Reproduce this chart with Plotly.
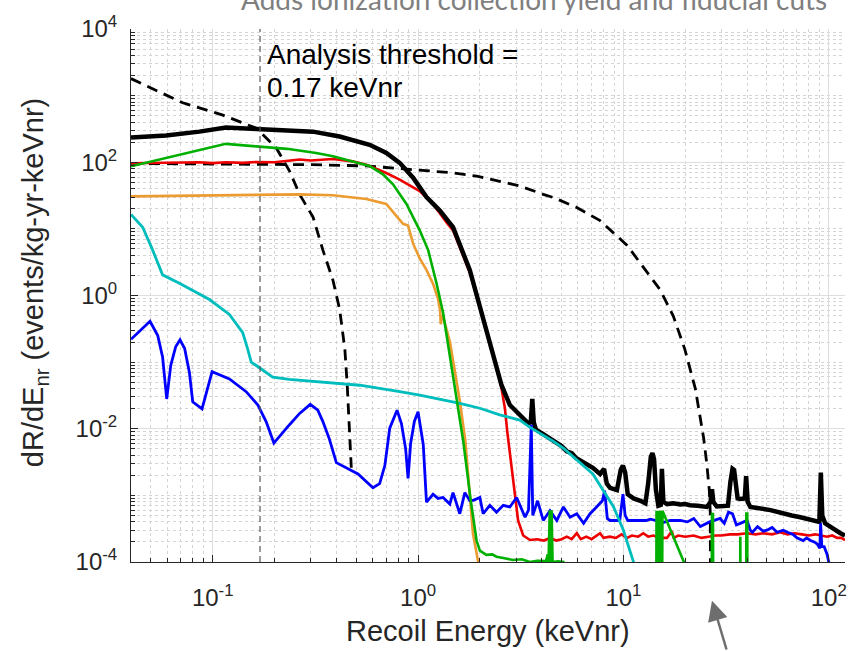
import math
import plotly.graph_objects as go

# ---------------------------------------------------------------
# Recoil spectra (events / kg / yr / keVnr) versus recoil energy (keVnr)
# ---------------------------------------------------------------

# light WIMP signal (dashed)
wimp_light_E = [0.040, 0.0714, 0.112, 0.163, 0.204, 0.237, 0.265, 0.308, 0.344,
                0.385, 0.415, 0.440, 0.452, 0.464, 0.473]
wimp_light_R = [1800, 780, 510, 324, 164, 73, 33, 15, 4.8,
                1.7, 0.62, 0.157, 0.045, 0.0081, 0.0026]

# heavier WIMP signal (dashed)
wimp_heavy_E = [0.040, 0.10, 0.30, 0.56, 0.91, 1.14, 1.43, 1.93, 2.80, 3.13, 4.07,
                4.55, 5.93, 7.70, 10.4, 12.5, 15.1, 17.5, 19.9, 22.4, 24.6, 25.5,
                26.2, 26.5, 26.6]
wimp_heavy_R = [96, 95, 92, 88, 78, 75, 70, 62, 47, 44, 33,
                29.6, 21, 13.3, 5.7, 2.7, 1.22, 0.49, 0.157, 0.04, 0.0072, 0.0029,
                0.0012, 0.00053, 1e-6]

# total background (thick black)
total_E = [0.040, 0.0593, 0.0861, 0.116, 0.163, 0.237, 0.308, 0.415, 0.581, 0.701,
           0.814, 0.946, 1.099, 1.276, 1.48, 1.787, 2.16, 2.366, 2.55, 2.80,
           3.13, 3.44, 3.54, 3.60, 3.66, 3.75, 4.0, 4.39, 4.7, 5.0, 5.3,
           5.6, 5.9, 6.2, 6.5, 7.1, 7.7, 8.05, 8.3, 8.61, 9.3, 9.7,
           9.95, 10.2, 10.5, 11.2, 12.1, 12.8, 13.2, 13.6, 13.85, 14.1, 14.4,
           14.8, 15.2, 15.4, 15.65, 16.3, 17.5, 18.9, 20.0, 21.1, 23.0, 25.5,
           26.6, 27.0, 27.4, 28.5, 30.7, 32.3, 33.2, 34.0, 34.6, 35.4, 36.0,
           37.1, 39.0, 39.6, 40.3, 41.5, 44.0, 46.5, 49.0, 52, 56, 60.4,
           66, 72.8, 78, 81.5, 86, 90.0, 91.5, 93.0, 96.0, 98.2, 102, 108, 114, 120]
total_R = [235, 252, 288, 331, 316, 300, 288, 243, 183, 138,
           98, 58.6, 30, 18.8, 10.6, 2.4, 0.31, 0.11, 0.045, 0.0227,
           0.0162, 0.0121, 0.0125, 0.028, 0.0125, 0.0097, 0.0086, 0.0072, 0.0061, 0.0055, 0.0046,
           0.0043, 0.0036, 0.0033, 0.0030, 0.0026, 0.0021, 0.0025, 0.0015, 0.0013, 0.0012, 0.0024,
           0.0028, 0.0022, 0.00104, 0.0009, 0.00083, 0.00076, 0.0015, 0.0038, 0.0043, 0.0035, 0.0012,
           0.0007, 0.00072, 0.0025, 0.0008, 0.00074, 0.00076, 0.00073, 0.00074, 0.00071, 0.0007, 0.00067,
           0.0008, 0.00124, 0.0008, 0.00068, 0.00069, 0.0007, 0.0016, 0.0025, 0.0024, 0.0013, 0.0009,
           0.00088, 0.0009, 0.00195, 0.0008, 0.00067, 0.00066, 0.00063, 0.00062, 0.0006, 0.00056, 0.00053,
           0.0005, 0.00047, 0.00045, 0.00043, 0.00041, 0.0004, 0.0022, 0.0005, 0.00038, 0.00036, 0.00034,
           0.0003, 0.00027, 0.00025]

# red component
red_E = [0.040, 0.055, 0.07, 0.0861, 0.10, 0.116, 0.14, 0.163, 0.2, 0.23, 0.265, 0.30,
         0.385, 0.48, 0.56, 0.70, 0.814, 0.946, 1.019, 1.183, 1.276, 1.376, 1.48,
         1.787, 2.16, 2.366, 2.46, 2.55, 2.648, 2.72, 2.80, 2.96, 3.07, 3.25, 3.51,
         3.8, 4.1, 4.4, 4.7, 5.0, 5.3, 5.6, 5.93, 6.2, 6.6, 7.0, 7.4, 7.7, 8.0,
         8.6, 9.2, 9.8, 10.4, 11.0, 11.8, 12.5, 13.2, 14.0, 15.0, 16.3, 17.2, 17.6,
         18.5, 20, 22, 24, 26, 28, 30, 33, 36, 40, 44, 48, 53, 58, 63, 68, 74, 80,
         86, 92, 98, 104, 110, 115, 120]
red_R = [96.5, 98, 97, 100, 97, 100, 98, 101, 100, 104, 110, 106,
         112, 103, 92, 69, 55, 42, 37, 23.6, 16.8, 12.5, 9.5,
         2.2, 0.29, 0.105, 0.07, 0.04, 0.0203, 0.009, 0.0045, 0.00118, 0.00042, 0.00025, 0.000214,
         0.00022, 0.00021, 0.00023, 0.00021, 0.00022, 0.00024, 0.00022, 0.00027, 0.00022, 0.00024,
         0.00022, 0.00025, 0.00027, 0.00023,
         0.00024, 0.00023, 0.00026, 0.00023, 0.00025, 0.00024, 0.00027, 0.00024, 0.00025, 0.00023,
         0.00023, 0.00029, 0.00023,
         0.00025, 0.00024, 0.00025, 0.00023, 0.00024, 0.00025, 0.00025, 0.00026, 0.00026, 0.00027,
         0.00026, 0.00027, 0.00026, 0.00028, 0.00026, 0.00027, 0.00026, 0.00025,
         0.00026, 0.00025, 0.00024, 0.00025, 0.00023, 0.00023, 0.000214]

# green component
green_E = [0.040, 0.116, 0.163, 0.23, 0.319, 0.385, 0.48, 0.58, 0.675, 0.755, 0.878,
           1.019, 1.12, 1.23, 1.324, 1.48, 1.66, 1.80, 1.927, 2.0, 2.15, 2.3, 2.41,
           2.6, 2.9, 3.2, 3.5, 3.8, 4.1, 4.2, 4.28, 4.32, 4.38, 4.42, 4.47, 4.52,
           4.8, 5.1, 5.2,
           14.45, 14.5, 14.65, 14.75, 14.9, 15.0, 15.15, 15.25, 15.4, 15.5,
           26.9, 27.0, 27.2, 27.3, 27.4,
           37.0, 37.1, 37.2,
           39.6, 39.7, 39.9, 40.1, 40.2]
green_R = [87, 189, 173, 159, 138, 123, 103, 88, 66, 46.6, 23.6,
           9.5, 4.8, 1.53, 0.55, 0.063, 0.0065, 0.0009, 0.00021, 0.000148, 0.000128, 0.00013, 0.00012,
           0.000115, 0.000107, 0.00011, 0.0001, 0.000104, 0.000102, 0.000103, 0.00013, 0.0001,
           0.0006, 0.00009, 0.0006, 0.0001,
           0.000102, 0.0001, 1e-5,
           1e-5, 0.00059, 1e-5, 0.00059, 1e-5, 0.00059, 1e-5, 0.00059, 1e-5, 0.00059,
           1e-5, 0.00055, 1e-5, 0.00055, 1e-5,
           1e-5, 0.00024, 1e-5,
           1e-5, 0.00056, 1e-5, 0.00056, 1e-5]

# orange component
orange_E = [0.040, 0.1, 0.163, 0.265, 0.385, 0.48, 0.56, 0.70, 0.845, 0.894, 0.946,
            1.019, 1.10, 1.183, 1.25, 1.28, 1.29, 1.31, 1.33, 1.43, 1.48, 1.6, 1.70,
            1.78, 1.85, 1.963, 2.05]
orange_R = [30.7, 31.5, 32, 33, 32, 30, 28, 23.6, 11.9, 11.2, 6.0,
            3.6, 2.4, 1.5, 0.9, 0.6, 0.37, 0.5, 0.46, 0.2, 0.11, 0.0254, 0.0065,
            0.0012, 0.00027, 0.0001, 1e-5]

# cyan component
cyan_E = [0.040, 0.0456, 0.051, 0.057, 0.0688, 0.0964, 0.1206, 0.140, 0.148, 0.154,
          0.163, 0.196, 0.236, 0.385, 0.52, 0.814, 1.019, 1.597, 2.0, 2.5, 3.13,
          3.51, 4.55, 5.1, 7.1, 8.96, 10.0, 11.2, 12.0]
cyan_R = [16.4, 10.6, 4.8, 2.04, 1.53, 0.87, 0.52, 0.277, 0.157, 0.1,
          0.089, 0.0597, 0.055, 0.048, 0.045, 0.036, 0.032, 0.024, 0.0203, 0.0162, 0.0135,
          0.0105, 0.0065, 0.0051, 0.0021, 0.00067, 0.0003, 0.0001, 1e-5]

# blue component
blue_E = [0.040, 0.0495, 0.054, 0.057, 0.0597, 0.0625, 0.066, 0.0693, 0.073, 0.077,
          0.0799, 0.0887, 0.0993, 0.1206, 0.1455, 0.166,
          0.182, 0.1985, 0.2366, 0.265, 0.2985, 0.325, 0.344, 0.37, 0.40, 0.51, 0.603,
          0.65, 0.689, 0.728, 0.79, 0.83, 0.87, 0.894, 0.92, 0.96, 1.0, 1.06, 1.099,
          1.183, 1.25, 1.324, 1.428, 1.48,
          1.597, 1.69, 1.787, 1.87, 2.0, 2.075, 2.237, 2.41, 2.60, 2.80, 3.02, 3.19,
          3.32, 3.45, 3.56, 3.62, 3.82, 4.07, 4.39, 4.74, 5.1, 5.5, 5.93, 6.4, 6.88,
          7.4, 7.9, 8.1, 8.35, 8.6, 9.2, 9.6, 9.95, 10.2, 10.5, 11.6, 12.9, 13.5,
          14.4, 15.1, 16.9, 18.9, 20.5, 22.0, 23.7, 26.3, 28.5, 29.6, 31.0, 32.5,
          34.0, 35.5, 37.1, 40.0, 41.5, 42.5, 45.0, 48.0, 50, 53, 56, 60, 63, 67, 70,
          75, 78, 81.5, 85, 88, 90.5, 91.3, 92.5, 95, 98.2, 100, 101]
blue_R = [0.22, 0.41, 0.25, 0.12, 0.028, 0.09, 0.17, 0.216, 0.16, 0.07,
          0.0254, 0.0199, 0.072, 0.056, 0.036, 0.0227,
          0.0128, 0.0061, 0.0115, 0.017, 0.0232, 0.019, 0.0128, 0.007, 0.0031, 0.0021, 0.0013,
          0.0015, 0.0028, 0.0102, 0.019, 0.012, 0.005, 0.0018, 0.006, 0.013, 0.018, 0.0058, 0.00079,
          0.00104, 0.0009, 0.00093, 0.00074, 0.0011,
          0.00053, 0.0011, 0.00083, 0.00085, 0.00093, 0.00053, 0.00071, 0.00056, 0.00071, 0.00067, 0.00093, 0.00063,
          0.00047, 0.0006, 0.0115, 0.0005, 0.00083, 0.00042, 0.00059, 0.00042, 0.00067, 0.00047, 0.00053, 0.00038, 0.00053,
          0.00067, 0.00083, 0.00118, 0.00045, 0.00042, 0.00042, 0.00042, 0.00104, 0.0005, 0.00042, 0.00042, 0.00042, 0.00044,
          0.00042, 0.00038, 0.00042, 0.00042, 0.0004, 0.00045, 0.00034, 0.0004, 0.00043, 0.00045, 0.00038, 0.00056,
          0.00053, 0.00036, 0.00038, 0.00042, 0.0003, 0.00028, 0.00034, 0.00029, 0.0003, 0.00033, 0.00028, 0.0003, 0.00028, 0.00026, 0.00023,
          0.00021, 0.00023, 0.00021, 0.0002, 0.000185, 0.00016, 0.00038, 0.00017, 0.00017, 0.00013, 0.0001, 1e-5]

threshold_keVnr = 0.17

x_tick_vals = [0.1, 1, 10, 100]
x_tick_text = ["10<sup>-1</sup>", "10<sup>0</sup>", "10<sup>1</sup>", "10<sup>2</sup>"]
y_tick_vals = [1e-4, 1e-2, 1e0, 1e2, 1e4]
y_tick_text = ["10<sup>-4</sup>", "10<sup>-2</sup>", "10<sup>0</sup>", "10<sup>2</sup>", "10<sup>4</sup>"]

X_MIN, X_MAX = 0.04, 120
Y_MIN, Y_MAX = 1e-4, 1e4

# minor ticks / grid: 2..9 of every decade (and odd decades on y)
x_minor = [m * 10.0 ** k for k in range(-2, 3) for m in range(2, 10)
           if X_MIN <= m * 10.0 ** k <= X_MAX]
y_minor = [m * 10.0 ** k for k in range(-4, 4) for m in range(1, 10)
           if not (m == 1 and k % 2 == 0)]

AX = "#262626"
FONT = "Liberation Sans, Arial, Helvetica, sans-serif"

fig = go.Figure()


def add_line(E, R, color, width, dash="solid"):
    fig.add_trace(go.Scatter(x=E, y=R, mode="lines",
                             line=dict(color=color, width=width, dash=dash),
                             hoverinfo="skip", showlegend=False))


add_line(wimp_light_E, wimp_light_R, "black", 2.8, "11px,7px")
add_line(wimp_heavy_E, wimp_heavy_R, "black", 2.8, "11px,7px")
add_line(red_E, red_R, "#ee0000", 2.6)
add_line(orange_E, orange_R, "#eb9b2f", 2.6)
add_line(total_E, total_R, "black", 4.5)
add_line(blue_E, blue_R, "#0000ff", 2.8)
add_line(cyan_E, cyan_R, "#00bdbd", 2.8)
add_line(green_E, green_R, "#00b000", 2.6)

# analysis threshold marker
fig.add_trace(go.Scatter(x=[threshold_keVnr, threshold_keVnr], y=[Y_MIN, Y_MAX],
                         mode="lines", line=dict(color="#5a5a5a", width=1.2, dash="6px,4px"),
                         hoverinfo="skip", showlegend=False))

axis_common = dict(
    type="log",
    showline=True, linecolor=AX, linewidth=1, mirror=False,
    ticks="inside", ticklen=7, tickwidth=1, tickcolor=AX,
    showgrid=True, gridcolor="#dedede", gridwidth=1,
    zeroline=False,
    tickfont=dict(family=FONT, size=24, color=AX),
)

label_font = dict(family=FONT, size=28, color="black")

fig.update_layout(
    width=862, height=651,
    margin=dict(l=131, r=17, t=23, b=89),
    paper_bgcolor="white", plot_bgcolor="white",
    xaxis=dict(axis_common,
               range=[math.log10(X_MIN), math.log10(X_MAX)],
               tickmode="array", tickvals=x_tick_vals, ticktext=x_tick_text,
               ticklabelstandoff=14,
               minor=dict(tickmode="array", tickvals=x_minor, ticks="inside", ticklen=4,
                          tickcolor=AX, showgrid=True, gridcolor="#d4d4d4", griddash="dot",
                          gridwidth=1)),
    yaxis=dict(axis_common,
               range=[math.log10(Y_MIN), math.log10(Y_MAX)],
               tickmode="array", tickvals=y_tick_vals, ticktext=y_tick_text,
               ticklabelstandoff=8,
               minor=dict(tickmode="array", tickvals=y_minor, ticks="inside", ticklen=4,
                          tickcolor=AX, showgrid=True, gridcolor="#d4d4d4", griddash="dot",
                          gridwidth=1)),
    annotations=[
        dict(text="Recoil Energy (keVnr)", xref="paper", yref="paper", x=0.5, y=-0.13,
             xanchor="center", yanchor="middle", showarrow=False,
             font=dict(family=FONT, size=29, color=AX)),
        dict(text="dR/dE<sub>nr</sub> (events/kg-yr-keVnr)", xref="paper", yref="paper",
             x=-0.1345, y=0.525, xanchor="center", yanchor="middle", textangle=-90,
             showarrow=False, font=dict(family=FONT, size=29, color=AX)),
        dict(text="Analysis threshold =", xref="x", yref="paper",
             x=math.log10(threshold_keVnr), y=1, xanchor="left", yanchor="middle",
             xshift=5, yshift=-25, showarrow=False, font=label_font),
        dict(text="0.17 keVnr", xref="x", yref="paper",
             x=math.log10(threshold_keVnr), y=1, xanchor="left", yanchor="middle",
             xshift=5, yshift=-58, showarrow=False, font=label_font),
        dict(text="Adds ionization collection yield and fiducial cuts", xref="paper",
             yref="paper", x=0.5644, y=1, xanchor="center", yanchor="bottom", yshift=11,
             showarrow=False, font=dict(family="Lato, Open Sans, sans-serif", size=28,
                                        color="#7f7f7f")),
        dict(text="", xref="paper", yref="paper", x=0.8137, y=-0.0725,
             ax=15, ay=52, showarrow=True, arrowhead=2, arrowsize=1.6,
             arrowwidth=2.5, arrowcolor="#6e6e6e"),
    ],
)

fig.write_html("out.html")
